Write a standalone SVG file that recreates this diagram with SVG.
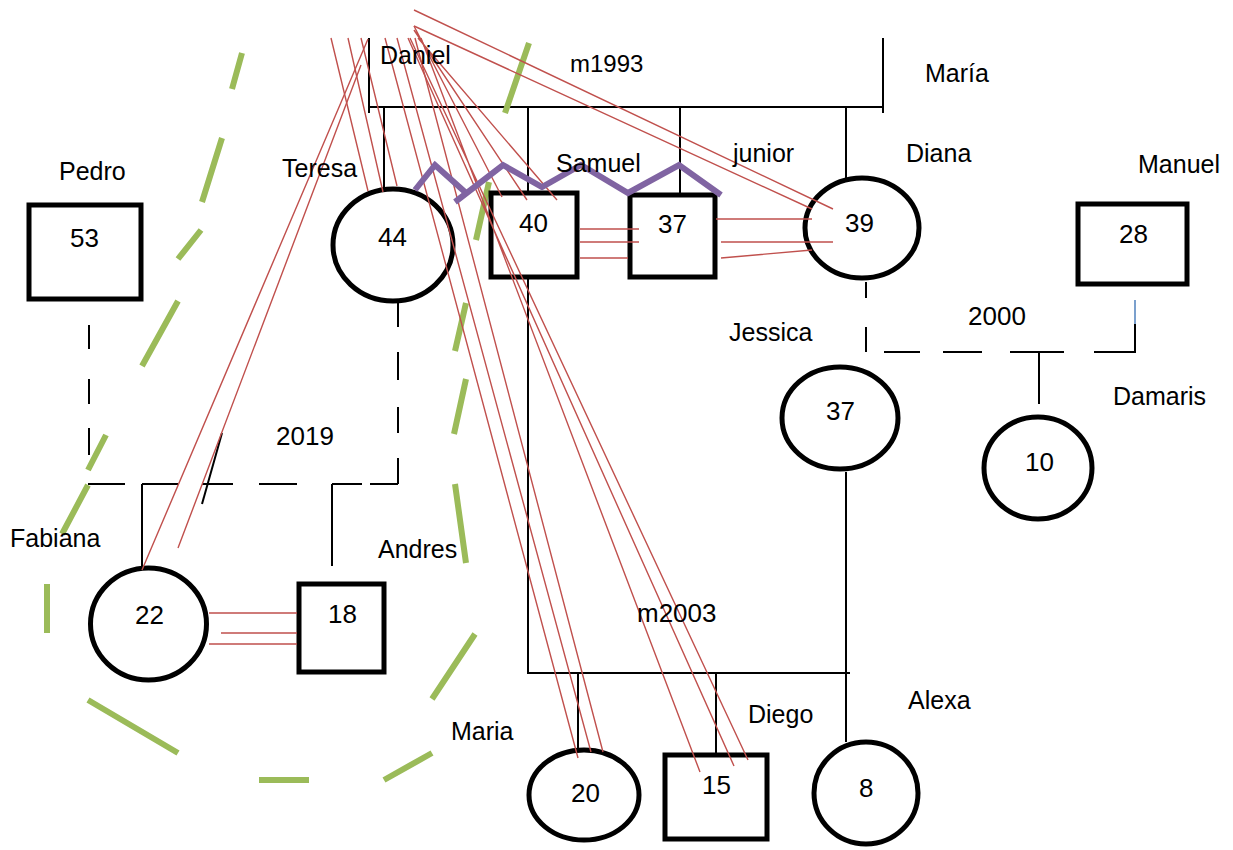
<svg xmlns="http://www.w3.org/2000/svg" width="1233" height="850" viewBox="0 0 1233 850">
<style>
text{font-family:"Liberation Sans",Arial,sans-serif;fill:#000}
.lbl{font-size:25px}
.num{font-size:26px}
.node{fill:#fff;stroke:#000;stroke-width:5}
.con{fill:none;stroke:#000;stroke-width:2}
.red{fill:none;stroke:#c0504d;stroke-width:1.4}
.grn{fill:none;stroke:#9bbb59;stroke-width:6}
.pur{fill:none;stroke:#8064a2;stroke-width:6;stroke-linejoin:miter}
</style>
<rect width="1233" height="850" fill="#fff"/>

<g id="connectors">
  <path class="con" d="M369,38V113M369,107H883M883,38V113M384,107V190M528,107V191M680,107V193M846,107V178"/>
  <path class="con" d="M528,279V673H850M846,472V742M578,673V748M716,673V753"/>
  <path class="con" d="M89,325V349M89,379V404M89,428V455"/>
  <path class="con" d="M398,303V327M398,352V380M398,407V433M398,458V484"/>
  <path class="con" d="M88,484H125M142,484H178M202,484H233M259,484H297M332,484H362M370,484H398"/>
  <path class="con" d="M142,484V566M332,484V566"/>
  <path class="con" d="M222,433L202,504"/>
  <path class="con" d="M866,282V298M866,327V352M884,352H920M943,352H982M1010,352H1064M1094,352H1135V324M1039,352V404"/>
  <path d="M1135,300V324" fill="none" stroke="#4f81bd" stroke-width="1.5"/>
</g>

<g id="green-dashes">
  <path class="grn" d="M529,43L505,113M489,182L476,240M466,303L455,351M466,379L454,434M455,484L466,563M475,634L432,699M432,753L384,780M309,780L259,780M178,753L88,700M47,633L47,584M62,534L88,485M88,470L106,435M142,366L178,301M178,259L201,230M202,202L222,138M232,89L242,53"/>
</g>

<g id="n53"><rect class="node" x="29" y="205" width="112" height="94"/><text class="num" x="70" y="247">53</text></g>
<g id="n44"><ellipse class="node" cx="393" cy="245" rx="60" ry="56"/><text class="num" x="378" y="246">44</text></g>
<g id="n40"><rect class="node" x="491" y="193" width="86" height="84"/><text class="num" x="519" y="232">40</text></g>
<g id="n37a"><rect class="node" x="630" y="195" width="85" height="82"/><text class="num" x="658" y="233">37</text></g>
<g id="n39"><ellipse class="node" cx="862" cy="228" rx="57" ry="50"/><text class="num" x="845" y="232">39</text></g>
<g id="n28"><rect class="node" x="1078" y="204" width="109" height="80"/><text class="num" x="1119" y="243">28</text></g>
<g id="n37b"><ellipse class="node" cx="840" cy="418" rx="58" ry="51"/><text class="num" x="826" y="420">37</text></g>
<g id="n10"><ellipse class="node" cx="1038" cy="468" rx="54" ry="51"/><text class="num" x="1025" y="471">10</text></g>
<g id="n22"><ellipse class="node" cx="148.5" cy="624" rx="58" ry="56"/><text class="num" x="135" y="624">22</text></g>
<g id="n18"><rect class="node" x="299" y="584" width="85" height="88"/><text class="num" x="328" y="623">18</text></g>
<g id="n20"><ellipse class="node" cx="584" cy="795" rx="55" ry="45"/><text class="num" x="571" y="802">20</text></g>
<g id="n15"><rect class="node" x="665" y="755" width="102" height="84"/><text class="num" x="702" y="794">15</text></g>
<g id="n8"><ellipse class="node" cx="866" cy="793" rx="52" ry="51"/><text class="num" x="859" y="797">8</text></g>

<g id="red-lines">
  <path class="red" d="M331,38L368,191M348,38L383,192M361,38L397,186"/>
  <path class="red" d="M368,39L142,570M361,65L178,548"/>
  <path class="red" d="M385,38L578,758M397,38L591,752M415,38L603,752"/>
  <path class="red" d="M421,38L700,772M408,38L734,766M410,38L748,760"/>
  <path class="red" d="M414,26L502,197M414,30L527,200M418,38L557,200"/>
  <path class="red" d="M414,10L833,209M414,26L812,209"/>
  <path class="red" d="M580,229H639M580,242H639M580,258H628"/>
  <path class="red" d="M716,219H812M721,242H833M721,258L812,250"/>
  <path class="red" d="M209,613H297M221,633H297M209,644H297"/>
</g>

<g id="zigzag">
  <path class="pur" d="M415,190L435,165L465,192"/>
  <path class="pur" d="M455,202L503,165L542,187L581,165L628,193L679,165L721,195"/>
</g>

<g id="labels">
  <text class="lbl" x="380" y="64">Daniel</text>
  <text x="570" y="72" style="font-size:24px">m1993</text>
  <text class="lbl" x="925" y="82">María</text>
  <text class="lbl" x="59" y="180">Pedro</text>
  <text class="lbl" x="282" y="177">Teresa</text>
  <text class="lbl" x="556" y="172">Samuel</text>
  <text class="lbl" x="733" y="162">junior</text>
  <text class="lbl" x="906" y="162">Diana</text>
  <text class="lbl" x="1138" y="173">Manuel</text>
  <text class="lbl" x="729" y="341">Jessica</text>
  <text class="num" x="968" y="325">2000</text>
  <text class="lbl" x="1113" y="405">Damaris</text>
  <text class="num" x="276" y="445">2019</text>
  <text class="lbl" x="10" y="547">Fabiana</text>
  <text class="lbl" x="378" y="558">Andres</text>
  <text class="num" x="637" y="622">m2003</text>
  <text class="lbl" x="748" y="723">Diego</text>
  <text class="lbl" x="908" y="709">Alexa</text>
  <text class="lbl" x="451" y="740">Maria</text>
</g>
</svg>
